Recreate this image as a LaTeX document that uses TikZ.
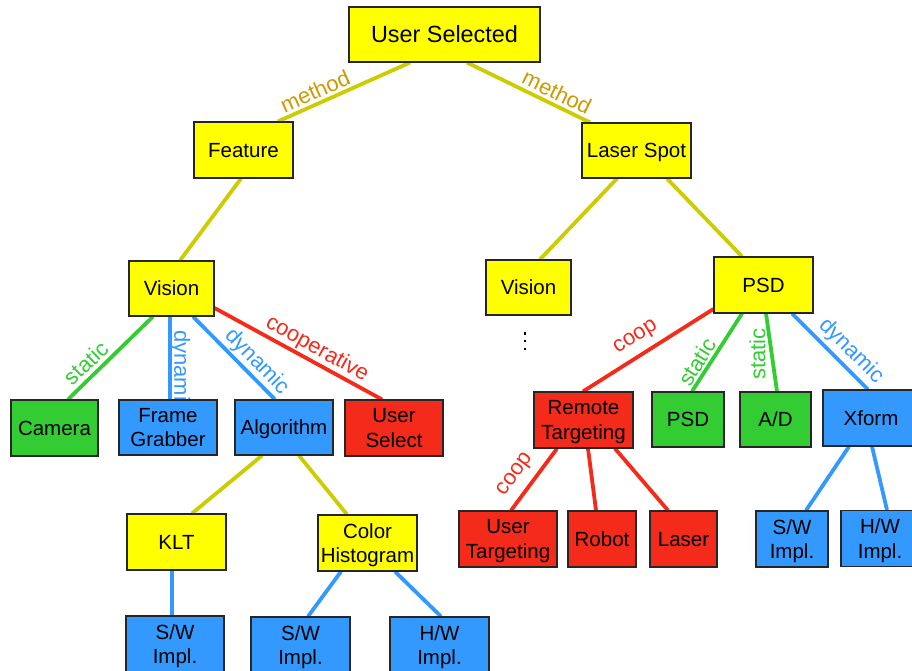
\documentclass[tikz,border=0pt]{standalone}
\usepackage{fontspec}
\setmainfont{Liberation Sans}
\usetikzlibrary{backgrounds}

\definecolor{boxyellow}{HTML}{FFFF00}
\definecolor{boxgreen}{HTML}{33CC33}
\definecolor{boxblue}{HTML}{3399FF}
\definecolor{boxred}{HTML}{F42A1A}
\definecolor{lineolive}{HTML}{CCCC00}
\definecolor{labelgold}{HTML}{CC9900}

\tikzset{
  box/.style={draw=black!85, line width=1.1pt, inner sep=0pt, align=center,
    text depth=0pt, font=\fontsize{20.5}{24.5}\selectfont, text=black},
  ybox/.style={box, fill=boxyellow},
  gbox/.style={box, fill=boxgreen},
  bbox/.style={box, fill=boxblue},
  rbox/.style={box, fill=boxred},
  sz/.style 2 args={minimum width=#1pt, minimum height=#2pt},
  link/.style={line width=3.8pt},
  ylink/.style={link, draw=lineolive},
  glink/.style={link, draw=boxgreen},
  blink/.style={link, draw=boxblue},
  rlink/.style={link, draw=boxred},
  lbl/.style={inner sep=0pt, font=\fontsize{22}{24}\selectfont},
  dotmark/.style={fill=black, inner sep=0pt, minimum size=2.4pt, shape=rectangle},
}

\begin{document}
\begin{tikzpicture}[x=1pt, y=-1pt]
  \useasboundingbox (0,0) rectangle (912,671);
  \clip (0,0) rectangle (912,671);

  % ---- boxes ----
  \node[ybox, sz={191}{55}, font=\fontsize{23.4}{26}\selectfont] (us) at (444.5,34.5) {User Selected};
  \node[ybox, sz={99}{56}]  (feat) at (243.5,150)   {Feature};
  \node[ybox, sz={109}{55}] (ls)   at (636.5,150.5) {Laser Spot};

  \node[ybox, sz={85}{55}]  (visL) at (171.5,288.5) {Vision};
  \node[ybox, sz={85}{55}]  (visR) at (528.5,287.5) {Vision};
  \node[ybox, sz={99}{56}]  (psd)  at (763.5,285)   {PSD};

  \node[gbox, sz={87}{56}]  (cam)  at (54.5,428)   {Camera};
  \node[bbox, sz={98}{55}]  (fg)   at (168,427.5)  {Frame\\Grabber};
  \node[bbox, sz={98}{55}]  (alg)  at (284,427.5)  {Algorithm};
  \node[rbox, sz={98}{56}]  (usel) at (394,428)    {User\\Select};

  \node[rbox, sz={99}{56}]  (rt)   at (583.5,420)  {Remote\\Targeting};
  \node[gbox, sz={72}{55}]  (psdg) at (688,419.5)  {PSD};
  \node[gbox, sz={71}{55}]  (ad)   at (775.5,419.5){A/D};
  \node[bbox, sz={96}{56}]  (xf)   at (871,418)    {Xform};

  \node[ybox, sz={99}{56}]  (klt)  at (176.5,542)  {KLT};
  \node[ybox, sz={99}{56}]  (ch)   at (367.5,543)  {Color\\Histogram};

  \node[bbox, sz={98}{56}]  (sw1)  at (175,644)    {S/W\\Impl.};
  \node[bbox, sz={99}{56}]  (sw2)  at (300.5,645)  {S/W\\Impl.};
  \node[bbox, sz={99}{56}]  (hw1)  at (439.5,645)  {H/W\\Impl.};

  \node[rbox, sz={98}{56}]  (ut)   at (508,539)    {User\\Targeting};
  \node[rbox, sz={68}{56}]  (rob)  at (602,539)    {Robot};
  \node[rbox, sz={67}{56}]  (las)  at (683.5,539)  {Laser};
  \node[bbox, sz={72}{56}]  (sw3)  at (792,539)    {S/W\\Impl.};
  \node[bbox, sz={78}{56}]  (hw2)  at (880,538.5)  {H/W\\Impl.};

  % vertical ellipsis under the right-hand Vision box
  \node[dotmark] (d1) at (525,333.3) {};
  \node[dotmark] (d2) at (525,341) {};
  \node[dotmark] (d3) at (525,348.7) {};

  \begin{pgfonlayer}{background}
    % ---- connectors ----
    \draw[ylink] ([xshift=-34.5pt]us.south) -- ([xshift=34.5pt]feat.north);
    \draw[ylink] ([xshift=22.5pt]us.south) -- ([xshift=-46.5pt]ls.north);
    \draw[ylink] ([xshift=-2.5pt]feat.south) -- ([xshift=8.5pt]visL.north);
    \draw[ylink] ([xshift=-19.5pt]ls.south) -- ([xshift=11.5pt]visR.north);
    \draw[ylink] ([xshift=30.5pt]ls.south) -- ([xshift=-21.5pt]psd.north);

    \draw[glink] ([xshift=-18.5pt]visL.south) -- ([xshift=13.5pt]cam.north);
    \draw[blink] ([xshift=-1.5pt]visL.south) -- ([xshift=2pt]fg.north);
    \draw[blink] ([xshift=21.5pt]visL.south) -- ([xshift=-9pt]alg.north);
    \draw[rlink] ([yshift=-19.5pt]visL.east) -- ([xshift=-12pt]usel.north);

    \draw[ylink] ([xshift=-22pt]alg.south) -- ([xshift=15.5pt]klt.north);
    \draw[ylink] ([xshift=15pt]alg.south) -- ([xshift=-20.5pt]ch.north);
    \draw[blink] ([xshift=-4.5pt]klt.south) -- ([xshift=-3pt]sw1.north);
    \draw[blink] ([xshift=-26.5pt]ch.south) -- ([xshift=7.5pt]sw2.north);
    \draw[blink] ([xshift=27.5pt]ch.south) -- ([xshift=1.5pt]hw1.north);

    \draw[rlink] ([yshift=-24pt]psd.west) -- ([xshift=-0.5pt]rt.north);
    \draw[glink] ([xshift=-21.5pt]psd.south) -- ([xshift=4pt]psdg.north);
    \draw[glink] ([xshift=2.5pt]psd.south) -- ([xshift=1.5pt]ad.north);
    \draw[blink] ([xshift=28.5pt]psd.south) -- ([xshift=-3pt]xf.north);

    \draw[rlink] ([xshift=-26.5pt]rt.south) -- ([xshift=3pt]ut.north);
    \draw[rlink] ([xshift=4.5pt]rt.south) -- ([xshift=-6pt]rob.north);
    \draw[rlink] ([xshift=31.5pt]rt.south) -- ([xshift=-15.5pt]las.north);
    \draw[blink] ([xshift=-22pt]xf.south) -- ([xshift=14pt]sw3.north);
    \draw[blink] ([xshift=1pt]xf.south) -- ([xshift=7pt]hw2.north);

    % ---- connector labels ----
    \node[lbl, text=labelgold, rotate=24]  (lm1) at (315,91)  {method};
    \node[lbl, text=labelgold, rotate=-26] (lm2) at (557,92)  {method};
    \node[lbl, text=boxgreen, rotate=44]   (ls1) at (86,363)  {static};
    \node[lbl, text=boxblue, rotate=-90]   (ld1) at (180,371) {dynamic};
    \node[lbl, text=boxblue, rotate=-46]   (ld2) at (257,362) {dynamic};
    \node[lbl, text=boxred, rotate=-29]    (lc1) at (317,349) {cooperative};
    \node[lbl, text=boxred, rotate=32]     (lc2) at (636,338) {coop};
    \node[lbl, text=boxgreen, rotate=58]   (ls2) at (697,362) {static};
    \node[lbl, text=boxgreen, rotate=90]   (ls3) at (757.5,354) {static};
    \node[lbl, text=boxblue, rotate=-45]   (ld3) at (851,351) {dynamic};
    \node[lbl, text=boxred, rotate=54]     (lc3) at (516,475) {coop};
  \end{pgfonlayer}
\end{tikzpicture}
\end{document}
